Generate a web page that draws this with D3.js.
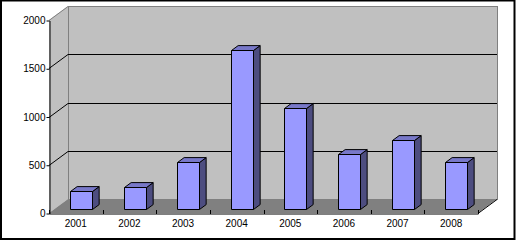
<!DOCTYPE html>
<html>
<head>
<meta charset="utf-8">
<script src="https://cdn.jsdelivr.net/npm/d3@7"></script>
<style>
  body { margin: 0; background: #fff; }
  text { font-family: Arial, "Liberation Sans", sans-serif; font-size: 10px; fill: #000; }
</style>
</head>
<body>
<div id="wrapper"></div>
<script>
const years = ["2001", "2002", "2003", "2004", "2005", "2006", "2007", "2008"];
const values = [190, 230, 490, 1650, 1045, 570, 715, 490];
const yTicks = [0, 500, 1000, 1500, 2000];

function drawChart() {
	const width = 516, height = 241;
	// front plane of the plot and the 3d depth offset
	const front = {left: 49, right: 478, top: 20, bottom: 213};
	const depth = {dx: 19, dy: -14};

	const svg = d3.select("#wrapper").append("svg")
		.attr("width", width)
		.attr("height", height);

	svg.append("rect")
		.attr("x", 1).attr("y", 0.5)
		.attr("width", 513.5).attr("height", 238.5)
		.attr("fill", "#fff")
		.attr("stroke", "#000")
		.attr("stroke-width", 2);

	const xScale = d3.scaleBand()
		.domain(years)
		.range([front.left, front.right]);

	const yScale = d3.scaleLinear()
		.domain([0, 2000])
		.range([front.bottom, front.top]);

	const yMax = yScale(2000), y0 = yScale(0);
	const backL = front.left + depth.dx, backR = front.right + depth.dx;

	// left side wall
	svg.append("polygon")
		.attr("points", [[front.left, yMax], [backL, yMax + depth.dy], [backL, y0 + depth.dy], [front.left, y0]].join(" "))
		.attr("fill", "#c0c0c0");

	// back wall
	svg.append("rect")
		.attr("x", backL + 0.5).attr("y", yMax + depth.dy + 0.5)
		.attr("width", backR - backL).attr("height", y0 - yMax)
		.attr("fill", "#c0c0c0")
		.attr("stroke", "#808080");

	// floor
	svg.append("polygon")
		.attr("points", [[front.left, y0], [backL, y0 + depth.dy], [backR, y0 + depth.dy], [front.right, y0]].join(" "))
		.attr("fill", "#808080");

	svg.append("line")
		.attr("x1", front.right).attr("y1", y0 + 0.5)
		.attr("x2", backR).attr("y2", y0 + depth.dy + 0.5)
		.attr("stroke", "#000");

	svg.append("line")
		.attr("x1", front.left).attr("y1", yMax + 0.5)
		.attr("x2", backL).attr("y2", yMax + depth.dy + 0.5)
		.attr("stroke", "#808080");

	// gridlines: diagonal on side wall + horizontal on back wall
	const grid = yTicks.filter(d => d > 0 && d < 2000);
	svg.selectAll(".gridSide").data(grid).enter().append("line")
		.attr("x1", front.left).attr("y1", d => Math.round(yScale(d)) + 0.5)
		.attr("x2", backL).attr("y2", d => Math.round(yScale(d)) + depth.dy + 0.5)
		.attr("stroke", "#000");
	svg.selectAll(".gridBack").data(grid).enter().append("line")
		.attr("x1", backL).attr("y1", d => Math.round(yScale(d)) + depth.dy + 0.5)
		.attr("x2", backR).attr("y2", d => Math.round(yScale(d)) + depth.dy + 0.5)
		.attr("stroke", "#000");

	// bars
	const z0 = 0.27, z1 = 0.62, barFrac = 0.41;
	const ddx = (z1 - z0) * depth.dx, ddy = (z1 - z0) * depth.dy;
	const bars = years.map((yr, i) => {
		const w = xScale.bandwidth() * barFrac;
		const x0 = Math.round(xScale(yr) + xScale.bandwidth() / 2 - w / 2 + z0 * depth.dx) + 0.5;
		const x1 = x0 + Math.round(w);
		const yb = Math.round(yScale(0) + z0 * depth.dy) + 0.5;
		const yt = Math.round(yScale(values[i]) + z0 * depth.dy) + 0.5;
		return {x0, x1, yb, yt};
	});

	const barG = svg.append("g").attr("stroke", "#000").attr("stroke-linejoin", "round");
	barG.selectAll(".side").data(bars).enter().append("polygon")
		.attr("points", b => [[b.x1, b.yt], [b.x1 + ddx, b.yt + ddy], [b.x1 + ddx, b.yb + ddy], [b.x1, b.yb]].join(" "))
		.attr("fill", "#4d4d80");
	barG.selectAll(".top").data(bars).enter().append("polygon")
		.attr("points", b => [[b.x0, b.yt], [b.x0 + ddx, b.yt + ddy], [b.x1 + ddx, b.yt + ddy], [b.x1, b.yt]].join(" "))
		.attr("fill", "#7878c8");
	barG.selectAll(".front").data(bars).enter().append("rect")
		.attr("x", b => b.x0).attr("y", b => b.yt)
		.attr("width", b => b.x1 - b.x0).attr("height", b => b.yb - b.yt)
		.attr("fill", "#9999ff");

	// y axis
	const yAxis = svg.append("g")
		.attr("transform", `translate(${front.left + 0.5}, 0.5)`)
		.call(d3.axisLeft(yScale).tickValues(yTicks).tickFormat(d3.format("d"))
			.tickSize(3).tickSizeOuter(0).tickPadding(1));
	yAxis.selectAll("text").style("font-size", "10px");
	yAxis.select(".domain").attr("stroke", "#000");

	// x axis (labels centred in categories, ticks at category boundaries)
	const xAxis = svg.append("g")
		.attr("transform", `translate(0, ${y0 + 0.5})`)
		.call(d3.axisBottom(xScale).tickSize(0).tickSizeOuter(0).tickPadding(6));
	xAxis.selectAll("text").style("font-size", "10px");
	xAxis.select(".domain").attr("stroke", "#000");

	const bounds = years.map(d => xScale(d)).concat([front.right]);
	svg.selectAll(".xtick").data(bounds).enter().append("line")
		.attr("x1", d => Math.round(d) + 0.5).attr("x2", d => Math.round(d) + 0.5)
		.attr("y1", y0 - 3).attr("y2", y0 + 1)
		.attr("stroke", "#000");
}

drawChart();
</script>
</body>
</html>
